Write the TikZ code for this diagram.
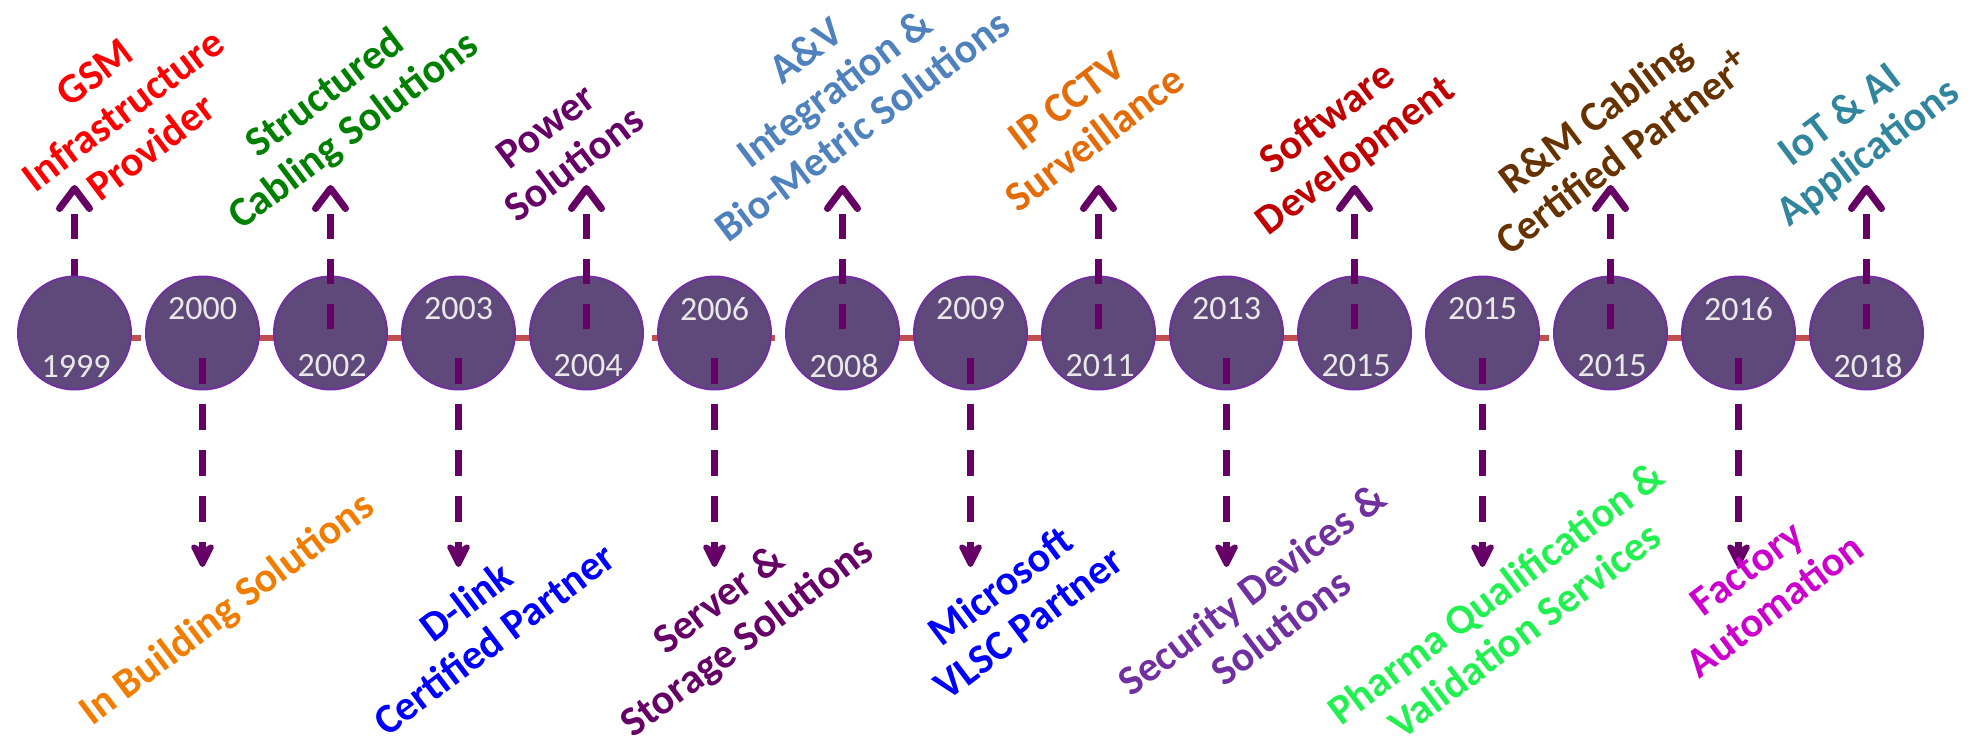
\documentclass[tikz,border=0pt]{standalone}
\usepackage{fontspec}
\setmainfont{Carlito}
\usetikzlibrary{arrows.meta}
\definecolor{circfill}{HTML}{5F497A}
\definecolor{circline}{HTML}{7030A0}
\definecolor{timeline}{HTML}{C0504D}
\definecolor{arrowc}{HTML}{660066}
\definecolor{yeargrey}{HTML}{E8E8E8}
\definecolor{cRed}{HTML}{FF0000}
\definecolor{cGreen}{HTML}{008000}
\definecolor{cPurple}{HTML}{660066}
\definecolor{cSteel}{HTML}{4F81BD}
\definecolor{cOrange}{HTML}{E36C09}
\definecolor{cDarkRed}{HTML}{C00000}
\definecolor{cBrown}{HTML}{663300}
\definecolor{cTeal}{HTML}{31859C}
\definecolor{cOrange2}{HTML}{F07D00}
\definecolor{cBlue}{HTML}{0000FF}
\definecolor{cViolet}{HTML}{7030A0}
\definecolor{cLime}{HTML}{22F050}
\definecolor{cMagenta}{HTML}{CC00CC}
\begin{document}
\begin{tikzpicture}[x=1pt,y=-1pt,
  dot/.style={circle, minimum size=113pt, inner sep=0pt, fill=circfill, draw=circline, line width=2pt},
  yearnode/.style={font=\fontsize{34}{38}\selectfont, text=yeargrey, inner sep=0pt},
  lbl/.style={font=\bfseries\fontsize{42}{47}\selectfont, align=center, rotate=37, inner sep=0pt},
  tline/.style={draw=timeline, line width=6pt},
  uparrow/.style={draw=arrowc, line width=7pt, dash pattern=on 25pt off 20pt, shorten <=4pt,
    -{Straight Barb[length=20pt,width=30pt,round]}},
  downarrow/.style={draw=arrowc, line width=7pt, dash pattern=on 26pt off 20pt, shorten <=25pt,
    -{Stealth[length=30pt,width=30pt,inset=9pt,round]}}
]
\useasboundingbox (0,0) rectangle (1976,750);

% timeline segments
\coordinate (t0a) at (75,338);   \coordinate (t0b) at (141,338);
\coordinate (t1a) at (202,338);  \coordinate (t1b) at (643,338);
\coordinate (t2a) at (652,338);  \coordinate (t2b) at (775,338);
\coordinate (t3a) at (843,338);  \coordinate (t3b) at (1411,338);
\coordinate (t4a) at (1483,338); \coordinate (t4b) at (1549,338);
\coordinate (t5a) at (1554,338); \coordinate (t5b) at (1923,338);
\foreach \k in {0,...,5} \draw[tline] (t\k a) -- (t\k b);

% arrow of 1999 lies behind its circle
\coordinate (ut0) at (74.5,185);
\coordinate (cc0) at (74.5,333);
\draw[uparrow] (cc0) -- (ut0);

% circles
\foreach \i in {0,...,14} \node[dot] (c\i) at ({74.5+128*\i},333) {};

% years
\foreach \i/\yr in {1/2000,3/2003,5/2006,7/2009,9/2013,11/2015,13/2016}
  \node[yearnode] (y\i) at ({74.5+128*\i},309) {\yr};
\foreach \i/\yr in {0/1999,2/2002,4/2004,6/2008,8/2011,10/2015,12/2015,14/2018}
  \node[yearnode] (y\i) at ({76+128*\i},366) {\yr};

% arrows up
\foreach \i in {2,4,...,14} {
  \coordinate (ut\i) at ({74.5+128*\i},185);
  \draw[uparrow] (c\i.center) -- (ut\i);
}
% arrows down
\foreach \i in {1,3,...,13} {
  \coordinate (dt\i) at ({74.5+128*\i},567);
  \draw[downarrow] (c\i.center) -- (dt\i);
}

% labels above
\node[lbl, text=cRed]     (l0)  at (123,110)  {GSM\\Infrastructure\\Provider};
\node[lbl, text=cGreen]   (l2)  at (340,113)  {Structured\\Cabling Solutions};
\node[lbl, text=cPurple]  (l4)  at (560,145)  {Power\\Solutions};
\node[lbl, text=cSteel]   (l6)  at (834,88)   {A\&V\\Integration \&\\Bio-Metric Solutions};
\node[lbl, text=cOrange]  (l8)  at (1081,120) {IP CCTV\\Surveillance};
\node[lbl, text=cDarkRed] (l10) at (1342,138) {Software\\Development};
\node[lbl, text=cBrown]   (l12) at (1609,134) {R\&M Cabling\\Certified Partner\raisebox{0.3em}{\fontsize{36}{36}\selectfont +}};
\node[lbl, text=cTeal]    (l14) at (1855,135) {IoT \& AI\\Applications};

% labels below
\node[lbl, text=cOrange2] (l1)  at (228,610)  {In Building Solutions};
\node[lbl, text=cBlue]    (l3)  at (480,620)  {D-link\\Certified Partner};
\node[lbl, text=cPurple]  (l5)  at (734,620)  {Server \&\\Storage Solutions};
\node[lbl, text=cBlue]    (l7)  at (1014,604) {Microsoft\\VLSC Partner};
\node[lbl, text=cViolet]  (l9)  at (1266,608) {Security Devices \&\\Solutions};
\node[lbl, text=cLime]    (l11) at (1510,611) {Pharma Qualification \&\\Validation Services};
\node[lbl, text=cMagenta] (l13) at (1761,587) {Factory\\Automation};
\end{tikzpicture}
\end{document}
